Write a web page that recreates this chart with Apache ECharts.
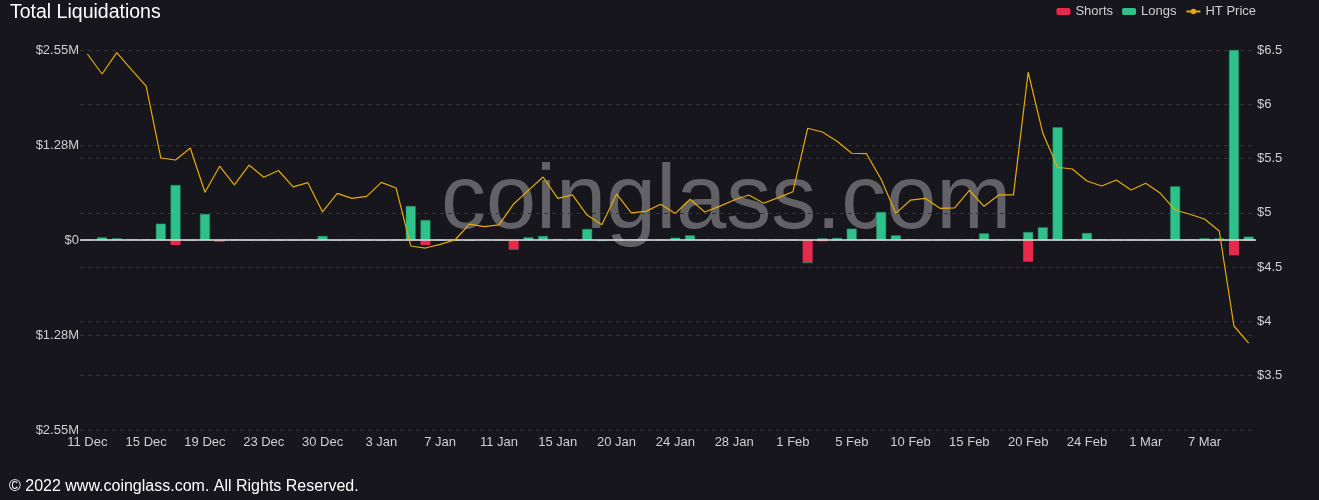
<!DOCTYPE html>
<html>
<head>
<meta charset="utf-8">
<script src="https://cdn.jsdelivr.net/npm/echarts@6/dist/echarts.min.js"></script>
<style>
html,body{margin:0;padding:0;background:#16161c;}
#chart{width:1319px;height:500px;}
</style>
</head>
<body>
<div id="chart"></div>
<script>
var categories = ['11 Dec','12 Dec','13 Dec','14 Dec','15 Dec','16 Dec','17 Dec','18 Dec','19 Dec','20 Dec',
'21 Dec','22 Dec','23 Dec','25 Dec','27 Dec','29 Dec','30 Dec','31 Dec','1 Jan','2 Jan',
'3 Jan','4 Jan','5 Jan','6 Jan','7 Jan','8 Jan','9 Jan','10 Jan','11 Jan','12 Jan',
'13 Jan','14 Jan','15 Jan','16 Jan','17 Jan','19 Jan','20 Jan','21 Jan','22 Jan','23 Jan',
'24 Jan','25 Jan','26 Jan','27 Jan','28 Jan','29 Jan','30 Jan','31 Jan','1 Feb','2 Feb',
'3 Feb','4 Feb','5 Feb','6 Feb','7 Feb','9 Feb','10 Feb','11 Feb','12 Feb','14 Feb',
'15 Feb','16 Feb','17 Feb','19 Feb','20 Feb','21 Feb','22 Feb','23 Feb','24 Feb','25 Feb',
'26 Feb','28 Feb','1 Mar','2 Mar','3 Mar','5 Mar','7 Mar','8 Mar','9 Mar','10 Mar'];

var longs = [0,36000,22000,9000,8000,219000,738000,0,349000,0,
8000,0,0,0,0,10000,54000,0,5000,0,
0,0,456000,268000,0,0,0,10000,0,0,
36000,54000,13000,13000,148000,0,0,8000,0,0,
31000,63000,3000,0,0,0,8000,0,0,0,
22000,27000,152000,8000,376000,63000,8000,0,5000,0,
10000,89000,0,0,107000,170000,1513000,10000,94000,8000,
0,0,0,0,720000,5000,22000,22000,2550000,45000];

var shorts = [0,0,0,0,0,0,-67000,-5000,0,-18000,
0,0,0,0,0,0,0,-3000,0,0,
-4000,0,-10000,-67000,0,0,-8000,0,0,-125000,
0,0,0,0,0,-10000,0,0,0,0,
0,0,0,0,0,0,0,0,0,-305000,
-18000,-5000,0,0,-5000,0,0,0,0,0,
0,0,0,0,-291000,-5000,0,0,0,0,
0,0,0,0,0,0,0,0,-206000,-10000];

var price = [6.463,6.279,6.475,6.32,6.168,5.505,5.487,5.597,5.19,5.43,
5.257,5.44,5.328,5.39,5.24,5.278,5.008,5.18,5.134,5.152,
5.281,5.229,4.695,4.676,4.71,4.75,4.897,4.873,4.89,5.082,
5.207,5.33,5.134,5.165,4.98,4.89,5.174,5.0,5.014,5.08,
4.995,5.125,5.008,5.06,5.118,5.165,5.088,5.14,5.195,5.779,
5.745,5.66,5.549,5.545,5.31,4.995,5.118,5.134,5.042,5.045,
5.208,5.06,5.165,5.165,6.295,5.733,5.42,5.404,5.293,5.247,
5.303,5.21,5.272,5.18,5.026,4.987,4.943,4.833,3.958,3.80];

var chart = echarts.init(document.getElementById('chart'));
var fontFam = '"Liberation Sans", Arial, sans-serif';
var gridLine = {show:true, lineStyle:{color:'#333338', type:[4,4], width:1}};
chart.setOption({
  backgroundColor:'#16161c',
  textStyle:{fontFamily:fontFam},
  animation:false,
  title:{text:'Total Liquidations', left:10, top:3, padding:0,
    textStyle:{color:'#ffffff', fontSize:19.5, fontWeight:'normal', fontFamily:fontFam}},
  legend:{right:58, top:0, itemWidth:14, itemHeight:7, itemGap:9,
    textStyle:{color:'#cfcfcf', fontSize:13, fontFamily:fontFam},
    data:[{name:'Shorts'},{name:'Longs', itemStyle:{borderWidth:0}},{name:'HT Price'}]},
  grid:{left:80, right:63, top:50, bottom:70},
  graphic:[
    {type:'text', left:441, top:158, z:0, silent:true,
      style:{text:'coinglass.com', fontSize:90, fontFamily:fontFam, fill:'rgba(255,255,255,0.33)'}},
    {type:'text', left:9, top:479, z:10,
      style:{text:'\u00A9 2022 www.coinglass.com. All Rights Reserved.', fontSize:16, fontFamily:fontFam, fill:'#ffffff'}}
  ],
  xAxis:{type:'category', data:categories, boundaryGap:true,
    axisLine:{show:false}, axisTick:{show:false},
    axisLabel:{interval:3, color:'#cfcfcf', fontSize:13, margin:6, fontFamily:fontFam}},
  yAxis:[
    {type:'value', min:-2550000, max:2550000, interval:1275000, position:'left',
      axisLine:{show:false}, axisTick:{show:false}, splitLine:gridLine,
      axisLabel:{color:'#cfcfcf', fontSize:13, margin:1, fontFamily:fontFam,
        formatter:function(v){ if(Math.abs(v)<1) return '$0'; return '$'+(Math.abs(v)/1e6+1e-9).toFixed(2)+'M'; }}},
    {type:'value', min:3, max:6.5, interval:0.5, position:'right',
      axisLine:{show:false}, axisTick:{show:false}, splitLine:gridLine,
      axisLabel:{color:'#cfcfcf', fontSize:13, margin:1, fontFamily:fontFam,
        formatter:function(v){ return v <= 3.01 ? '' : '$'+v; }}}
  ],
  series:[
    {name:'Shorts', type:'bar', stack:'liq', data:shorts, barWidth:10, yAxisIndex:0, z:3,
      itemStyle:{color:'#e8294c'},
      markLine:{silent:true, symbol:['none','none'], label:{show:false},
        lineStyle:{color:'#e6e6e6', type:'solid', width:1.5}, data:[{yAxis:0}]}},
    {name:'Longs', type:'bar', stack:'liq', data:longs, barWidth:10, yAxisIndex:0, z:3,
      itemStyle:{color:'#2fc18a', borderColor:'#1f8a62', borderWidth:0.5}},
    {name:'HT Price', type:'line', data:price, yAxisIndex:1, z:5,
      symbol:'circle', symbolSize:6, showSymbol:false,
      lineStyle:{color:'#e6ac00', width:1.2}, itemStyle:{color:'#e6ac00'}}
  ]
});
</script>
</body>
</html>
